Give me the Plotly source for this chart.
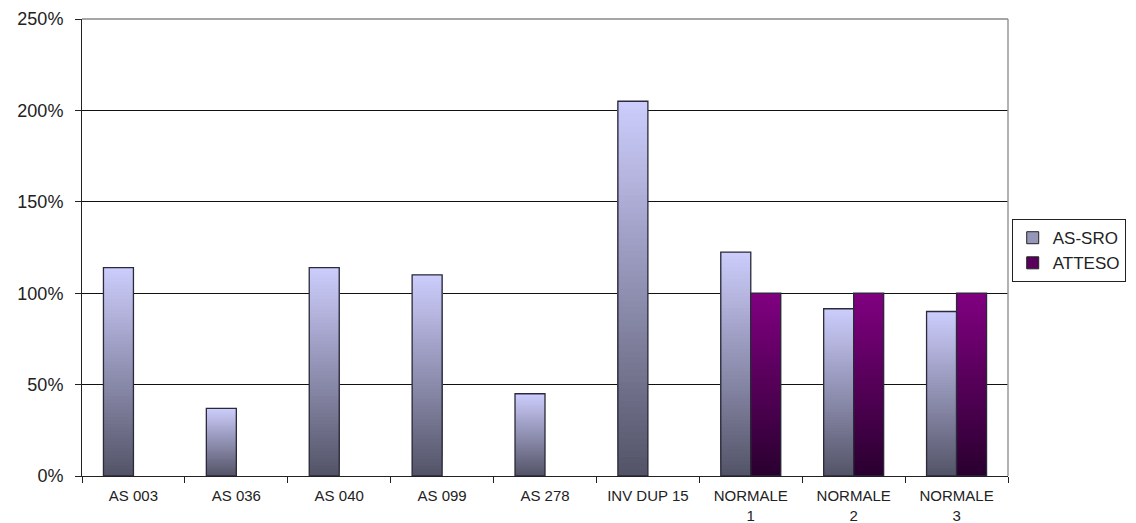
import plotly.graph_objects as go

categories = ["AS 003", "AS 036", "AS 040", "AS 099", "AS 278", "INV DUP 15",
              "NORMALE<br>1", "NORMALE<br>2", "NORMALE<br>3"]
as_sro = [114, 37, 114, 110, 45, 205, 122.5, 91.5, 90]
atteso = [None, None, None, None, None, None, 100, 100, 100]
y_ticks = [0, 50, 100, 150, 200, 250]
y_tick_labels = ["0%", "50%", "100%", "150%", "200%", "250%"]

N_SEG = 60
SRO_TOP, SRO_BOT = (204, 204, 252), (84, 84, 104)
ATT_TOP, ATT_BOT = (128, 0, 128), (42, 0, 48)


def mix(top, bot, t):
    # t = 0 at bottom, 1 at top
    return "rgb({},{},{})".format(*[round(b + (a - b) * t) for a, b in zip(top, bot)])


fig = go.Figure()


def add_gradient(values, group, top, bot, name):
    # overlapping layers: each layer spans from its base up to the bar top,
    # so no seams appear between the gradient steps
    for k in range(N_SEG):
        t = k / (N_SEG - 1)
        fig.add_trace(go.Bar(
            x=categories,
            y=[None if v is None else v * (N_SEG - k) / N_SEG for v in values],
            base=[None if v is None else v * k / N_SEG for v in values],
            offsetgroup=group, marker=dict(color=mix(top, bot, t), line=dict(width=0)),
            showlegend=False, hoverinfo="skip"))
    # outline
    fig.add_trace(go.Bar(
        x=categories, y=values, offsetgroup=group,
        marker=dict(color="rgba(0,0,0,0)", line=dict(color="#2a2a3a", width=1.3)),
        showlegend=False, name=name))
    # legend entry
    fig.add_trace(go.Bar(
        x=categories, y=[None] * len(categories), offsetgroup=group, name=name,
        marker=dict(color=mix(top, bot, 0.55), line=dict(color="#222", width=1)),
        showlegend=True))


add_gradient(as_sro, "sro", SRO_TOP, SRO_BOT, "AS-SRO")
add_gradient(atteso, "att", ATT_TOP, ATT_BOT, "ATTESO")

fig.update_layout(
    width=1136, height=523,
    margin=dict(l=82, r=128, t=19, b=47, autoexpand=False),
    paper_bgcolor="white", plot_bgcolor="white",
    barmode="group", bargap=0.417, bargroupgap=0,
    font=dict(family="Liberation Sans, Arial, sans-serif", size=16, color="#222"),
    xaxis=dict(
        type="category", showgrid=False, showline=True, linecolor="#222", linewidth=1,
        ticks="outside", tickson="boundaries", ticklen=6, tickcolor="#222",
        tickfont=dict(size=15), ticklabelstandoff=6, automargin=False, fixedrange=True),
    yaxis=dict(
        range=[0, 250], tickvals=y_ticks, ticktext=y_tick_labels,
        showgrid=True, gridcolor="#111", gridwidth=1,
        showline=True, linecolor="#222", linewidth=1,
        ticks="outside", ticklen=6, tickcolor="#222", ticklabelstandoff=8,
        tickfont=dict(size=18), zeroline=False, automargin=False),
    legend=dict(
        x=1.004, xanchor="left", y=0.562, yanchor="top",
        bordercolor="#222", borderwidth=1, bgcolor="white",
        font=dict(size=17), traceorder="normal",
        itemwidth=30),
    shapes=[
        dict(type="line", xref="paper", yref="paper", x0=1, x1=1, y0=0, y1=1,
             line=dict(color="#999", width=1.5)),
        dict(type="line", xref="paper", yref="paper", x0=0, x1=1, y0=1, y1=1,
             line=dict(color="#888", width=1.5)),
    ],
)

fig.write_html("out.html")
